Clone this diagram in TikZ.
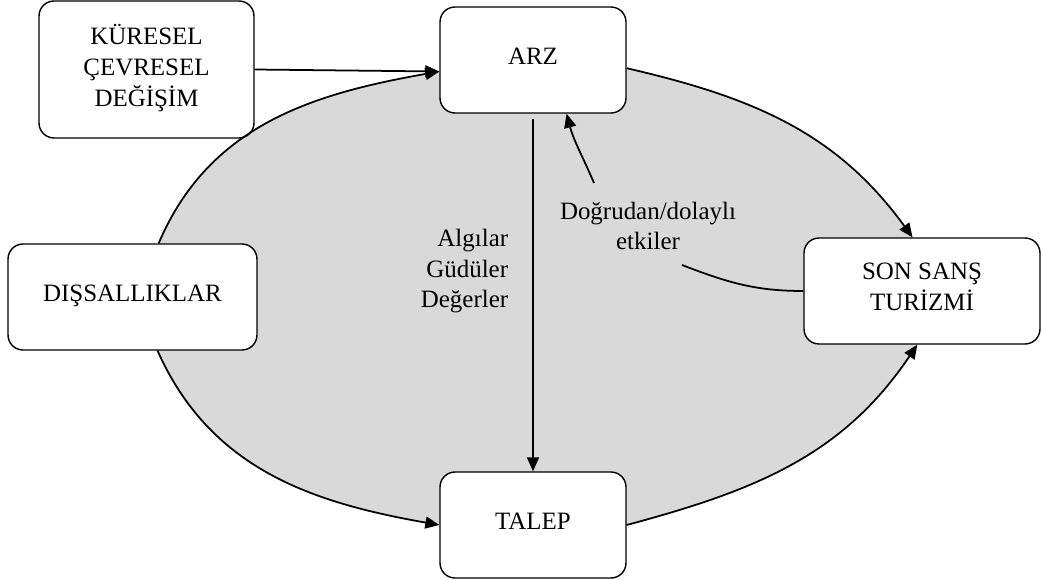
\documentclass[tikz,border=0pt]{standalone}
\usepackage{fontspec}
\setmainfont{Liberation Serif}
\usetikzlibrary{arrows.meta,positioning,backgrounds}

\begin{document}
\begin{tikzpicture}[x=0.02cm,y=0.02cm,line width=1pt,>={Triangle[length=0.28cm,width=0.24cm]}]
  \tikzstyle{box}=[draw,fill=white,line width=0.8pt,rounded corners=0.3cm,align=center,inner sep=0pt,
                   text depth=0.16cm,font=\fontsize{14.2}{17.6}\selectfont]
  \tikzstyle{lbl}=[inner sep=0pt,font=\fontsize{14.2}{17.6}\selectfont]
  \useasboundingbox (0,0) rectangle (1042,579);

  \foreach \name/\x/\y/\w/\h/\text in {kuresel/146.5/509.5/4.3/2.74/{KÜRESEL\\ÇEVRESEL\\DEĞİŞİM},
                                       arz/533/519/3.72/2.12/{ARZ},
                                       dis/132.5/282/4.98/2.12/{DIŞSALLIKLAR},
                                       son/922/288/4.72/2.12/{SON SANŞ\\TURİZMİ},
                                       talep/533/54/3.72/2.12/{TALEP}}
    \node[box,minimum width=\w cm,minimum height=\h cm] (\name) at (\x,\y) {\text};

  % grey oval behind the boxes
  \begin{scope}[on background layer]
    \fill[black!15] (dis.64) to[out=67,in=190] (arz.187) -- (arz.-5)
      to[out=-13,in=126] (son.100) -- (son.-95) to[out=-124,in=15] (talep.east)
      -- (talep.west) to[out=170,in=-66] (dis.-65) -- cycle;
  \end{scope}

  \foreach \src/\ao/\ai/\dst in {dis.64/67/190/arz.187, arz.-5/-13/126/son.100,
                                 dis.-65/-66/170/talep.west, talep.east/15/-124/son.-95}
    \draw[->] (\src) to[out=\ao,in=\ai] (\dst);

  \draw[->] (kuresel.east) -- (arz.187);
  \draw[->,shorten <=0.1cm] (arz.south) -- (talep.north)
    node[lbl,pos=0.44,left=0.48cm,align=right] {Algılar\\Güdüler\\Değerler};

  \node[lbl,align=center] (etki) at (648,353) {Doğrudan/dolaylı\\etkiler};
  \coordinate (e1) at (682,314);
  \coordinate (e2) at (594,396);
  \draw (son.west) to[out=180,in=-21] (e1);
  \draw[->] (e2) to[out=113,in=-75] (arz.-58);
\end{tikzpicture}
\end{document}
